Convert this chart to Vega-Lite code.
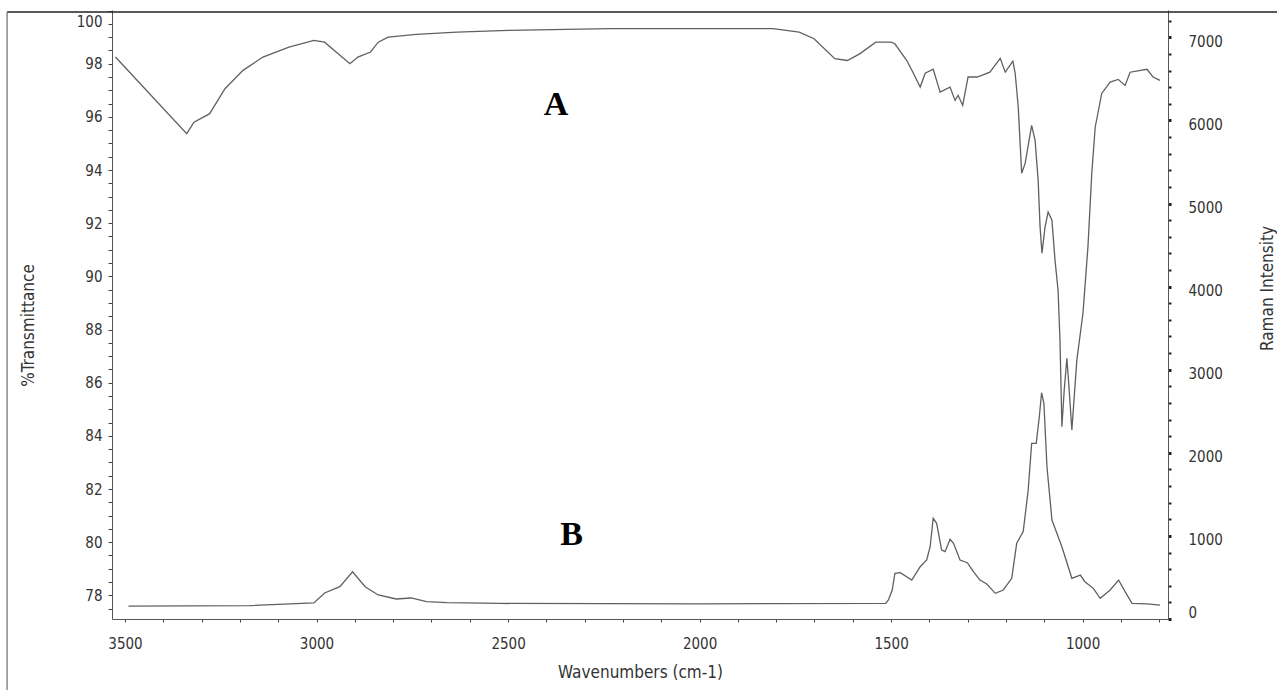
{
  "$schema": "https://vega.github.io/schema/vega-lite/v6.json",
  "width": 1056,
  "height": 609,
  "autosize": {"type": "none"},
  "padding": {"left": 112, "top": 10, "right": 109, "bottom": 71},
  "background": "white",
  "config": {
    "view": {"stroke": null},
    "axis": {
      "grid": false,
      "labelFont": "DejaVu Sans Condensed, DejaVu Sans",
      "labelFontSize": 15,
      "labelColor": "#333333",
      "titleFont": "DejaVu Sans Condensed, DejaVu Sans",
      "titleFontSize": 17,
      "titleFontWeight": "normal",
      "titleColor": "#333333",
      "domainColor": "#555555",
      "tickColor": "#444444",
      "labelOverlap": false,
      "labelFlush": false
    }
  },
  "datasets": {
    "A": [
      {"w":3525,"T":98.25},{"w":3339,"T":95.37},{"w":3320,"T":95.8},{"w":3279,"T":96.12},{"w":3239,"T":97.06},{"w":3192,"T":97.75},{"w":3140,"T":98.25},{"w":3072,"T":98.62},{"w":3007,"T":98.88},{"w":2979,"T":98.81},{"w":2913,"T":98.0},{"w":2892,"T":98.25},{"w":2859,"T":98.44},{"w":2839,"T":98.81},{"w":2813,"T":99.0},{"w":2740,"T":99.1},{"w":2633,"T":99.19},{"w":2500,"T":99.25},{"w":2234,"T":99.32},{"w":1967,"T":99.32},{"w":1808,"T":99.32},{"w":1740,"T":99.19},{"w":1701,"T":98.94},{"w":1647,"T":98.19},{"w":1614,"T":98.12},{"w":1581,"T":98.38},{"w":1540,"T":98.81},{"w":1500,"T":98.81},{"w":1490,"T":98.75},{"w":1459,"T":98.12},{"w":1443,"T":97.68},{"w":1424,"T":97.12},{"w":1411,"T":97.64},{"w":1390,"T":97.79},{"w":1372,"T":96.93},{"w":1346,"T":97.12},{"w":1333,"T":96.62},{"w":1325,"T":96.81},{"w":1313,"T":96.43},{"w":1299,"T":97.5},{"w":1275,"T":97.5},{"w":1242,"T":97.68},{"w":1215,"T":98.2},{"w":1202,"T":97.68},{"w":1182,"T":98.1},{"w":1176,"T":97.64},{"w":1168,"T":96.37},{"w":1159,"T":93.88},{"w":1150,"T":94.25},{"w":1133,"T":95.68},{"w":1124,"T":95.12},{"w":1116,"T":93.61},{"w":1111,"T":91.86},{"w":1106,"T":90.87},{"w":1098,"T":91.86},{"w":1090,"T":92.42},{"w":1080,"T":92.11},{"w":1072,"T":90.61},{"w":1064,"T":89.48},{"w":1059,"T":87.6},{"w":1054,"T":84.34},{"w":1048,"T":85.72},{"w":1041,"T":86.92},{"w":1035,"T":85.72},{"w":1028,"T":84.22},{"w":1015,"T":86.85},{"w":999,"T":88.61},{"w":986,"T":91.11},{"w":976,"T":93.88},{"w":967,"T":95.62},{"w":950,"T":96.88},{"w":928,"T":97.31},{"w":907,"T":97.41},{"w":889,"T":97.18},{"w":876,"T":97.68},{"w":832,"T":97.79},{"w":816,"T":97.5},{"w":798,"T":97.37}
    ],
    "B": [
      {"w":3491,"R":156},{"w":3174,"R":162},{"w":3007,"R":193},{"w":2979,"R":313},{"w":2939,"R":389},{"w":2906,"R":569},{"w":2873,"R":389},{"w":2839,"R":289},{"w":2792,"R":241},{"w":2753,"R":253},{"w":2713,"R":208},{"w":2659,"R":196},{"w":2521,"R":187},{"w":1999,"R":183},{"w":1514,"R":189},{"w":1507,"R":229},{"w":1497,"R":349},{"w":1490,"R":550},{"w":1476,"R":557},{"w":1446,"R":469},{"w":1424,"R":629},{"w":1407,"R":710},{"w":1398,"R":870},{"w":1390,"R":1212},{"w":1381,"R":1152},{"w":1368,"R":830},{"w":1359,"R":810},{"w":1346,"R":959},{"w":1337,"R":911},{"w":1320,"R":710},{"w":1301,"R":677},{"w":1285,"R":569},{"w":1268,"R":469},{"w":1250,"R":421},{"w":1228,"R":309},{"w":1207,"R":349},{"w":1185,"R":490},{"w":1172,"R":911},{"w":1155,"R":1051},{"w":1142,"R":1552},{"w":1133,"R":2114},{"w":1121,"R":2114},{"w":1113,"R":2434},{"w":1107,"R":2723},{"w":1101,"R":2596},{"w":1093,"R":1833},{"w":1080,"R":1191},{"w":1054,"R":870},{"w":1028,"R":490},{"w":1006,"R":529},{"w":994,"R":449},{"w":972,"R":369},{"w":954,"R":249},{"w":928,"R":349},{"w":906,"R":469},{"w":889,"R":329},{"w":871,"R":189},{"w":832,"R":181},{"w":798,"R":168}
    ],
    "labels": [
      {"w":2375,"T":96.43,"label":"A"},
      {"w":2334,"T":80.27,"label":"B"}
    ]
  },
  "layer": [
    {
      "data": {"name": "A"},
      "mark": {"type": "line", "stroke": "#606060", "strokeWidth": 1.3},
      "encoding": {
        "x": {
          "field": "w",
          "type": "quantitative",
          "scale": {"domain": [777, 3534], "reverse": true, "nice": false, "zero": false},
          "axis": {
            "title": "Wavenumbers (cm-1)",
            "values": [800,900,1000,1100,1200,1300,1400,1500,1600,1700,1800,1900,2000,2100,2200,2300,2400,2500,2600,2700,2800,2900,3000,3100,3200,3300,3400,3500],
            "tickCount": 1000,
            "format": "d",
            "labelExpr": "datum.value % 500 === 0 ? datum.label : ''",
            "labelOverlap": false,
            "labelFlush": false,
            "tickSize": 3,
            "labelPadding": 14,
            "titlePadding": 13
          }
        },
        "y": {
          "field": "T",
          "type": "quantitative",
          "scale": {"domain": [77.11, 100.02], "nice": false, "zero": false},
          "axis": {
            "title": "%Transmittance",
            "orient": "left",
            "values": [77.5,78,78.5,79,79.5,80,80.5,81,81.5,82,82.5,83,83.5,84,84.5,85,85.5,86,86.5,87,87.5,88,88.5,89,89.5,90,90.5,91,91.5,92,92.5,93,93.5,94,94.5,95,95.5,96,96.5,97,97.5,98,98.5,99,99.5,100],
            "tickCount": 1000,
            "tickMinStep": 0.5,
            "labelExpr": "datum.value % 2 === 0 ? '' + datum.value : ''",
            "labelOverlap": false,
            "labelOffset": {"condition": {"test": "datum.value === 100", "value": 11}, "value": 0},
            "tickSize": 4,
            "labelPadding": 6,
            "titleAngle": -90,
            "titleX": -84,
            "titleY": 315,
            "titleBaseline": "middle",
            "titleAlign": "center"
          }
        }
      }
    },
    {
      "data": {"name": "B"},
      "mark": {"type": "line", "stroke": "#606060", "strokeWidth": 1.3},
      "encoding": {
        "x": {"field": "w", "type": "quantitative"},
        "y": {
          "field": "R",
          "type": "quantitative",
          "scale": {"domain": [0, 7329], "nice": false, "zero": false},
          "axis": {
            "title": "Raman Intensity",
            "orient": "right",
            "values": [0,200,400,600,800,1000,1200,1400,1600,1800,2000,2200,2400,2600,2800,3000,3200,3400,3600,3800,4000,4200,4400,4600,4800,5000,5200,5400,5600,5800,6000,6200,6400,6600,6800,7000,7200],
            "tickCount": 1000,
            "format": "d",
            "labelExpr": "datum.value % 1000 === 0 ? datum.label : ''",
            "labelOverlap": false,
            "labelOffset": {"condition": {"test": "datum.value === 0", "value": -7}, "value": 4},
            "tickSize": 3,
            "tickWidth": {"condition": {"test": "datum.value % 1000 === 0", "value": 3}, "value": 2},
            "tickColor": "#222222",
            "labelPadding": 17,
            "labelAlign": "left",
            "titleAngle": -90,
            "titleX": 99,
            "titleY": 278,
            "titleBaseline": "middle",
            "titleAlign": "center"
          }
        }
      }
    },
    {
      "data": {"name": "labels"},
      "mark": {"type": "text", "font": "Liberation Serif", "fontWeight": "bold", "fontSize": 34, "color": "#000000", "align": "center", "baseline": "middle"},
      "encoding": {
        "x": {"field": "w", "type": "quantitative"},
        "y": {"field": "T", "type": "quantitative", "scale": {"domain": [77.11, 100.02], "nice": false, "zero": false}, "axis": null},
        "text": {"field": "label"}
      }
    },
    {
      "data": {"values": [{"k": 1}]},
      "mark": {"type": "rule", "color": "#222222", "strokeWidth": 1.5, "clip": false},
      "encoding": {
        "x": {"datum": 3808, "type": "quantitative"},
        "x2": {"datum": 492},
        "y": {"datum": 99.945, "type": "quantitative", "scale": {"domain": [77.11, 100.02], "nice": false, "zero": false}, "axis": null}
      }
    },
    {
      "data": {"values": [{"k": 1}]},
      "mark": {"type": "rule", "color": "#888888", "strokeWidth": 1.5, "clip": false},
      "encoding": {
        "x": {"datum": 3808, "type": "quantitative"},
        "y": {"datum": 99.945, "type": "quantitative", "scale": {"domain": [77.11, 100.02], "nice": false, "zero": false}, "axis": null},
        "y2": {"datum": 74.44}
      }
    }
  ],
  "resolve": {"scale": {"y": "independent"}, "axis": {"y": "independent"}}
}
